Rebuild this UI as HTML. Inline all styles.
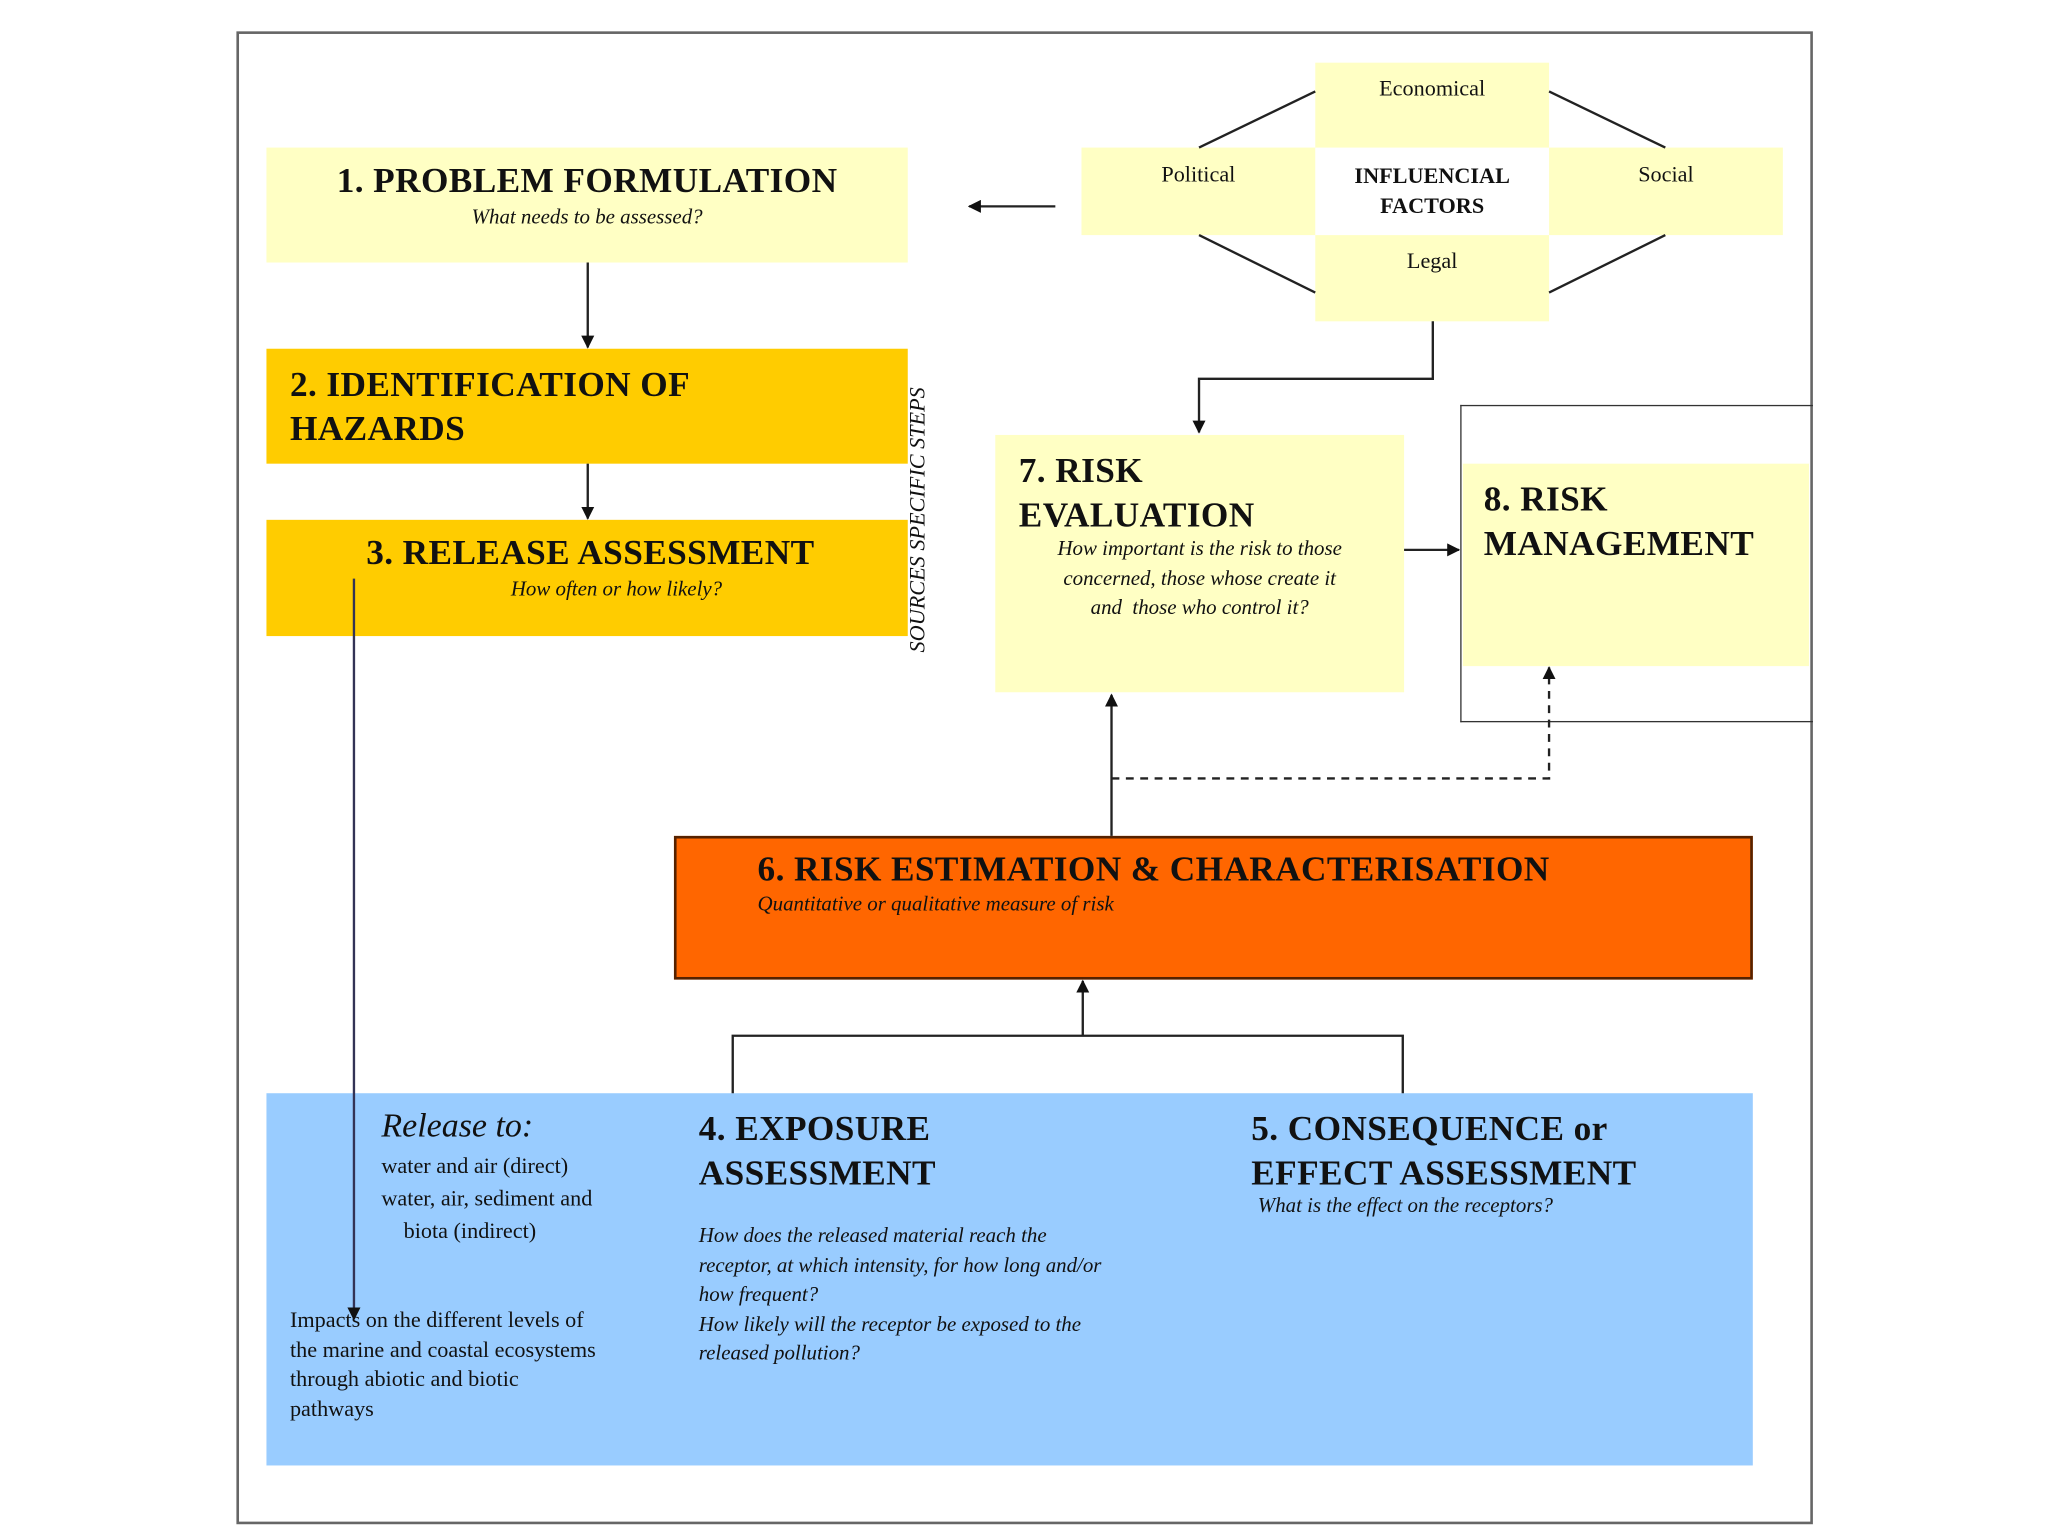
<!DOCTYPE html>
<html><head><meta charset="utf-8"><style>
html,body{margin:0;padding:0;background:#fff;width:2048px;height:1536px;overflow:hidden}
#w{position:absolute;left:0;top:0;width:1568px;height:1176px;transform:scale(1.306122);transform-origin:0 0;font-family:"Liberation Serif",serif;color:#111}
.b{position:absolute;box-sizing:border-box}
.t{position:absolute;white-space:nowrap}
.h{font-weight:bold;font-size:27px;letter-spacing:0.3px}
.i{font-style:italic;font-size:16px}
.ly{background:#ffffc4}
.yl{background:#ffcc00}
</style></head><body><div id="w">
<div class="b" style="left:181px;top:24px;width:1207px;height:1143px;border:2px solid #666"></div>

<div class="b ly" style="left:204px;top:113px;width:491px;height:88px"></div>
<div class="t h" style="left:204px;width:491px;text-align:center;top:123px">1. PROBLEM FORMULATION</div>
<div class="t i" style="left:204px;width:491px;text-align:center;top:158px">What needs to be assessed?</div>

<div class="b ly" style="left:1007px;top:48px;width:179px;height:198px"></div>
<div class="b ly" style="left:828px;top:113px;width:537px;height:67px"></div>
<div class="b" style="left:1007px;top:113px;width:179px;height:67px;background:#fff"></div>
<div class="t" style="left:1007px;width:179px;text-align:center;top:58px;font-size:17px">Economical</div>
<div class="t" style="left:828px;width:179px;text-align:center;top:124px;font-size:17px">Political</div>
<div class="t" style="left:1186px;width:179px;text-align:center;top:124px;font-size:17px">Social</div>
<div class="t" style="left:1007px;width:179px;text-align:center;top:123px;font-size:17px;font-weight:bold;line-height:23px">INFLUENCIAL<br>FACTORS</div>
<div class="t" style="left:1007px;width:179px;text-align:center;top:190px;font-size:17px">Legal</div>

<div class="b yl" style="left:204px;top:267px;width:491px;height:88px"></div>
<div class="t h" style="left:222px;top:277px;line-height:34px">2. IDENTIFICATION OF<br>HAZARDS</div>

<div class="b yl" style="left:204px;top:398px;width:491px;height:89px"></div>
<div class="t h" style="left:204px;width:496px;text-align:center;top:408px">3. RELEASE ASSESSMENT</div>
<div class="t i" style="left:224px;width:496px;text-align:center;top:443px">How often or how likely?</div>

<div class="t i" style="left:703px;top:398px;font-size:17px;transform:translate(-50%,-50%) rotate(-90deg);">SOURCES SPECIFIC STEPS</div>

<div class="b ly" style="left:762px;top:333px;width:313px;height:197px"></div>
<div class="t h" style="left:780px;top:343px;line-height:34px">7. RISK<br>EVALUATION</div>
<div class="t i" style="left:762px;width:313px;text-align:center;top:410px;line-height:22.5px">How important is the risk to those<br>concerned, those whose create it<br>and &nbsp;those who control it?</div>

<div class="b" style="left:1118px;top:310px;width:270px;height:243px;border:1.5px solid #333;border-right:none"></div>
<div class="b ly" style="left:1120px;top:355px;width:265px;height:155px"></div>
<div class="t h" style="left:1136px;top:365px;line-height:34px">8. RISK<br>MANAGEMENT</div>

<div class="b" style="left:516px;top:640px;width:826px;height:110px;background:#ff6600;border:2px solid #552200"></div>
<div class="t h" style="left:580px;top:650px">6. RISK ESTIMATION &amp; CHARACTERISATION</div>
<div class="t i" style="left:580px;top:684px">Quantitative or qualitative measure of risk</div>

<div class="b" style="left:204px;top:837px;width:1138px;height:285px;background:#99ccff"></div>
<div class="t" style="left:292px;top:847px;font-size:26px;font-style:italic">Release to:</div>
<div class="t" style="left:292px;top:880px;font-size:17px;line-height:25px">water and air (direct)<br>water, air, sediment and<br>&nbsp;&nbsp;&nbsp;&nbsp;biota (indirect)</div>
<div class="t" style="left:222px;top:1000px;font-size:17px;line-height:22.5px">Impacts on the different levels of<br>the marine and coastal ecosystems<br>through abiotic and biotic<br>pathways</div>
<div class="t h" style="left:535px;top:847px;line-height:34px">4. EXPOSURE<br>ASSESSMENT</div>
<div class="t i" style="left:535px;top:936px;line-height:22.5px">How does the released material reach the<br>receptor, at which intensity, for how long and/or<br>how frequent?<br>How likely will the receptor be exposed to the<br>released pollution?</div>
<div class="t h" style="left:958px;top:847px;line-height:34px">5. CONSEQUENCE or<br>EFFECT ASSESSMENT</div>
<div class="t i" style="left:963px;top:915px">What is the effect on the receptors?</div>

<svg class="b" style="left:0;top:0" width="1568" height="1176" viewBox="0 0 1568 1176">
<defs><marker id="a" markerWidth="10" markerHeight="10" refX="9" refY="5" orient="auto" markerUnits="userSpaceOnUse"><path d="M0,0 L10,5 L0,10 z" fill="#111"/></marker></defs>
<g stroke="#222" stroke-width="1.8" fill="none">
<line x1="808" y1="158" x2="742" y2="158" marker-end="url(#a)"/>
<line x1="918" y1="113" x2="1007" y2="70"/><line x1="1186" y1="70" x2="1275" y2="113"/>
<line x1="918" y1="180" x2="1007" y2="224"/><line x1="1186" y1="224" x2="1275" y2="180"/>
<polyline points="1097,246 1097,290 918,290 918,331" marker-end="url(#a)"/>
<line x1="450" y1="201" x2="450" y2="266" marker-end="url(#a)"/>
<line x1="450" y1="355" x2="450" y2="397" marker-end="url(#a)"/>
<line x1="1075" y1="421" x2="1117" y2="421" marker-end="url(#a)"/>
<line x1="851" y1="640" x2="851" y2="532" marker-end="url(#a)"/>
<polyline points="851,596 1186,596 1186,511" stroke-dasharray="6,5" marker-end="url(#a)"/>
<line x1="829" y1="793" x2="829" y2="751" marker-end="url(#a)"/>
<polyline points="561,837 561,793 1074,793 1074,837"/>
<line x1="271" y1="443" x2="271" y2="1010" stroke="#335" marker-end="url(#a)"/>
</g></svg>
</div></body></html>
